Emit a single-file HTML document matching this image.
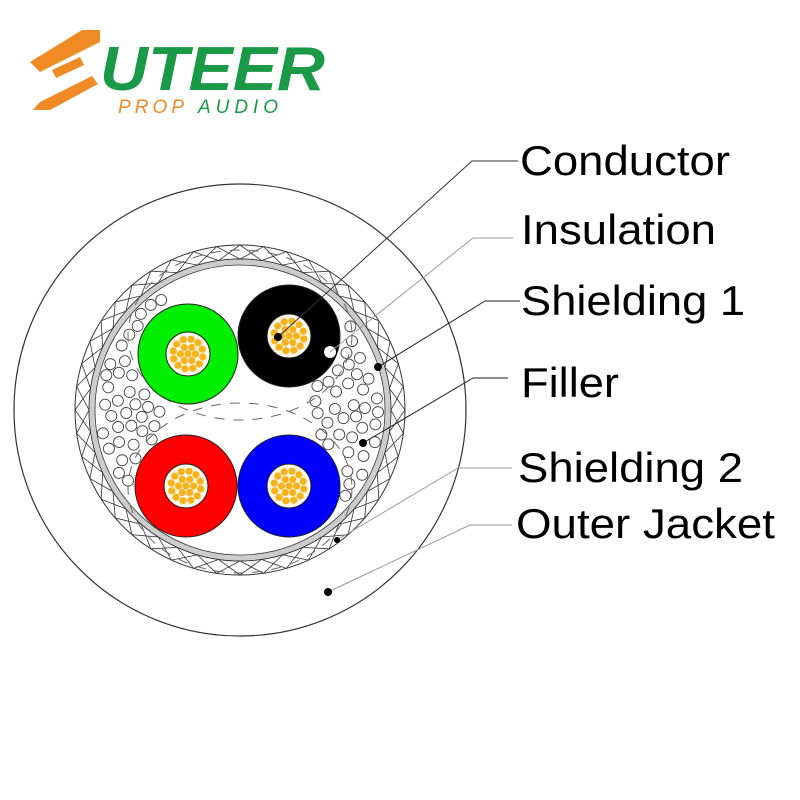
<!DOCTYPE html>
<html><head><meta charset="utf-8"><style>
body{margin:0;background:#fff;width:800px;height:800px;overflow:hidden}
svg{position:absolute;left:0;top:0}
.l{font-family:"Liberation Sans",sans-serif;font-size:42px;fill:#000}
</style></head><body>
<svg id="s" width="800" height="800" viewBox="0 0 800 800">
<!-- logo -->
<polygon points="82,30 100,30 100,42 40,72 30,62" fill="#f08a24"/>
<polygon points="52,70 80,57 84,65 56,78" fill="#f08a24"/>
<polygon points="40,102 92,76 98,84 50,110 33,110" fill="#f08a24"/>
<text x="100" y="90" font-family="Liberation Sans,sans-serif" font-weight="bold" font-style="italic" font-size="62" fill="#1a9a46" textLength="225" lengthAdjust="spacingAndGlyphs">UTEER</text>
<text x="118" y="113" font-family="Liberation Sans,sans-serif" font-style="italic" font-size="19" fill="#f08a24" textLength="66" lengthAdjust="spacing">PROP</text>
<text x="198" y="113" font-family="Liberation Sans,sans-serif" font-style="italic" font-size="19" fill="#1a9a46" textLength="80" lengthAdjust="spacing">AUDIO</text>

<circle cx="240" cy="410" r="226" fill="none" stroke="#333" stroke-width="1.2"/>
<g id="braid"></g>
<circle cx="240" cy="410" r="165" fill="none" stroke="#333" stroke-width="1"/>
<circle cx="240" cy="410" r="151" fill="#fff" stroke="#333" stroke-width="1"/>
<circle cx="240" cy="410" r="148" fill="none" stroke="#ccc" stroke-width="5"/>
<circle cx="240" cy="410" r="145" fill="none" stroke="#333" stroke-width="0.8"/>
<g id="fill" fill="#fff" stroke="#444" stroke-width="0.9"></g>
<ellipse cx="240" cy="335" rx="112" ry="85" fill="none" stroke="#666" stroke-dasharray="10,9"/>
<ellipse cx="240" cy="488" rx="112" ry="85" fill="none" stroke="#666" stroke-dasharray="10,9"/>
<g stroke="#222" stroke-width="1">
<circle cx="188" cy="354" r="50" fill="#0e0"/>
<circle cx="289" cy="336" r="51" fill="#000"/>
<circle cx="186" cy="486" r="51" fill="#f00"/>
<circle cx="289" cy="486" r="51" fill="#00f"/>
</g>
<g id="cu"></g>
<circle cx="330" cy="352" r="6" fill="#fff"/>
<g fill="none" stroke-width="1">
<polyline points="278,337 472,161 518,161" stroke="#333"/>
<polyline points="330,352 473,238 513,238" stroke="#999"/>
<polyline points="378,367 485,301 520,301" stroke="#222"/>
<polyline points="363,443 473,378 508,378" stroke="#222"/>
<polyline points="337,540 458,468 512,468" stroke="#999"/>
<polyline points="328,592 470,525 512,525" stroke="#999"/>
</g>
<g fill="#000"><circle cx="278" cy="337" r="4"/><circle cx="378" cy="367" r="4"/><circle cx="363" cy="443" r="4"/><circle cx="337" cy="540" r="3"/><circle cx="328" cy="592" r="4"/></g>
<text class="l" x="520" y="175" textLength="210" lengthAdjust="spacingAndGlyphs">Conductor</text>
<text class="l" x="521" y="244" textLength="195" lengthAdjust="spacingAndGlyphs">Insulation</text>
<text class="l" x="521" y="315" textLength="224" lengthAdjust="spacingAndGlyphs">Shielding 1</text>
<text class="l" x="521" y="397" textLength="98" lengthAdjust="spacingAndGlyphs">Filler</text>
<text class="l" x="518" y="482" textLength="225" lengthAdjust="spacingAndGlyphs">Shielding 2</text>
<text class="l" x="516" y="538" textLength="259" lengthAdjust="spacingAndGlyphs">Outer Jacket</text>
</svg>
<script>
var NS="http://www.w3.org/2000/svg",cx=240,cy=410;
function el(t,a,p){var e=document.createElementNS(NS,t);for(var k in a)e.setAttribute(k,a[k]);p.appendChild(e);return e;}
var b=document.getElementById("braid"),n=44,r1=151,r2=165;
for(var i=0;i<n;i++){var a=i/n*2*Math.PI,d=2*Math.PI/n;
el("line",{x1:cx+r1*Math.cos(a),y1:cy+r1*Math.sin(a),x2:cx+r2*Math.cos(a+d),y2:cy+r2*Math.sin(a+d),stroke:"#333","stroke-width":0.8},b);
el("line",{x1:cx+r2*Math.cos(a),y1:cy+r2*Math.sin(a),x2:cx+r1*Math.cos(a+d),y2:cy+r1*Math.sin(a+d),stroke:"#333","stroke-width":0.8},b);}
var f=document.getElementById("fill"),C=[[188,354],[289,336],[186,486],[289,486]],pts=[],seed=11;
function rnd(){seed=(seed*16807)%2147483647;return seed/2147483647;}
for(var k=0;k<20000&&pts.length<160;k++){var x=90+rnd()*300,y=265+rnd()*290;
if(Math.hypot(x-cx,y-cy)>139)continue;var ok=true;
for(var j=0;j<4;j++)if(Math.hypot(x-C[j][0],y-C[j][1])<57)ok=false;
if(x>165&&x<315)ok=false;
for(var j=0;j<pts.length&&ok;j++)if(Math.hypot(x-pts[j][0],y-pts[j][1])<11.5)ok=false;
if(ok){pts.push([x,y]);el("circle",{cx:x,cy:y,r:5.5},f);}}
var cu=document.getElementById("cu");
C.forEach(function(c){el("circle",{cx:c[0],cy:c[1],r:22,fill:"#fff8e8",stroke:"#222"},cu);
var s=[[0,0]];for(var i=0;i<6;i++)s.push([7.5*Math.cos(i*Math.PI/3),7.5*Math.sin(i*Math.PI/3)]);
for(var i=0;i<12;i++)s.push([15*Math.cos(i*Math.PI/6+0.2),15*Math.sin(i*Math.PI/6+0.2)]);
s.forEach(function(p){el("circle",{cx:c[0]+p[0],cy:c[1]+p[1],r:3.6,fill:"#f7b21c"},cu);});});
</script>
</body></html>
